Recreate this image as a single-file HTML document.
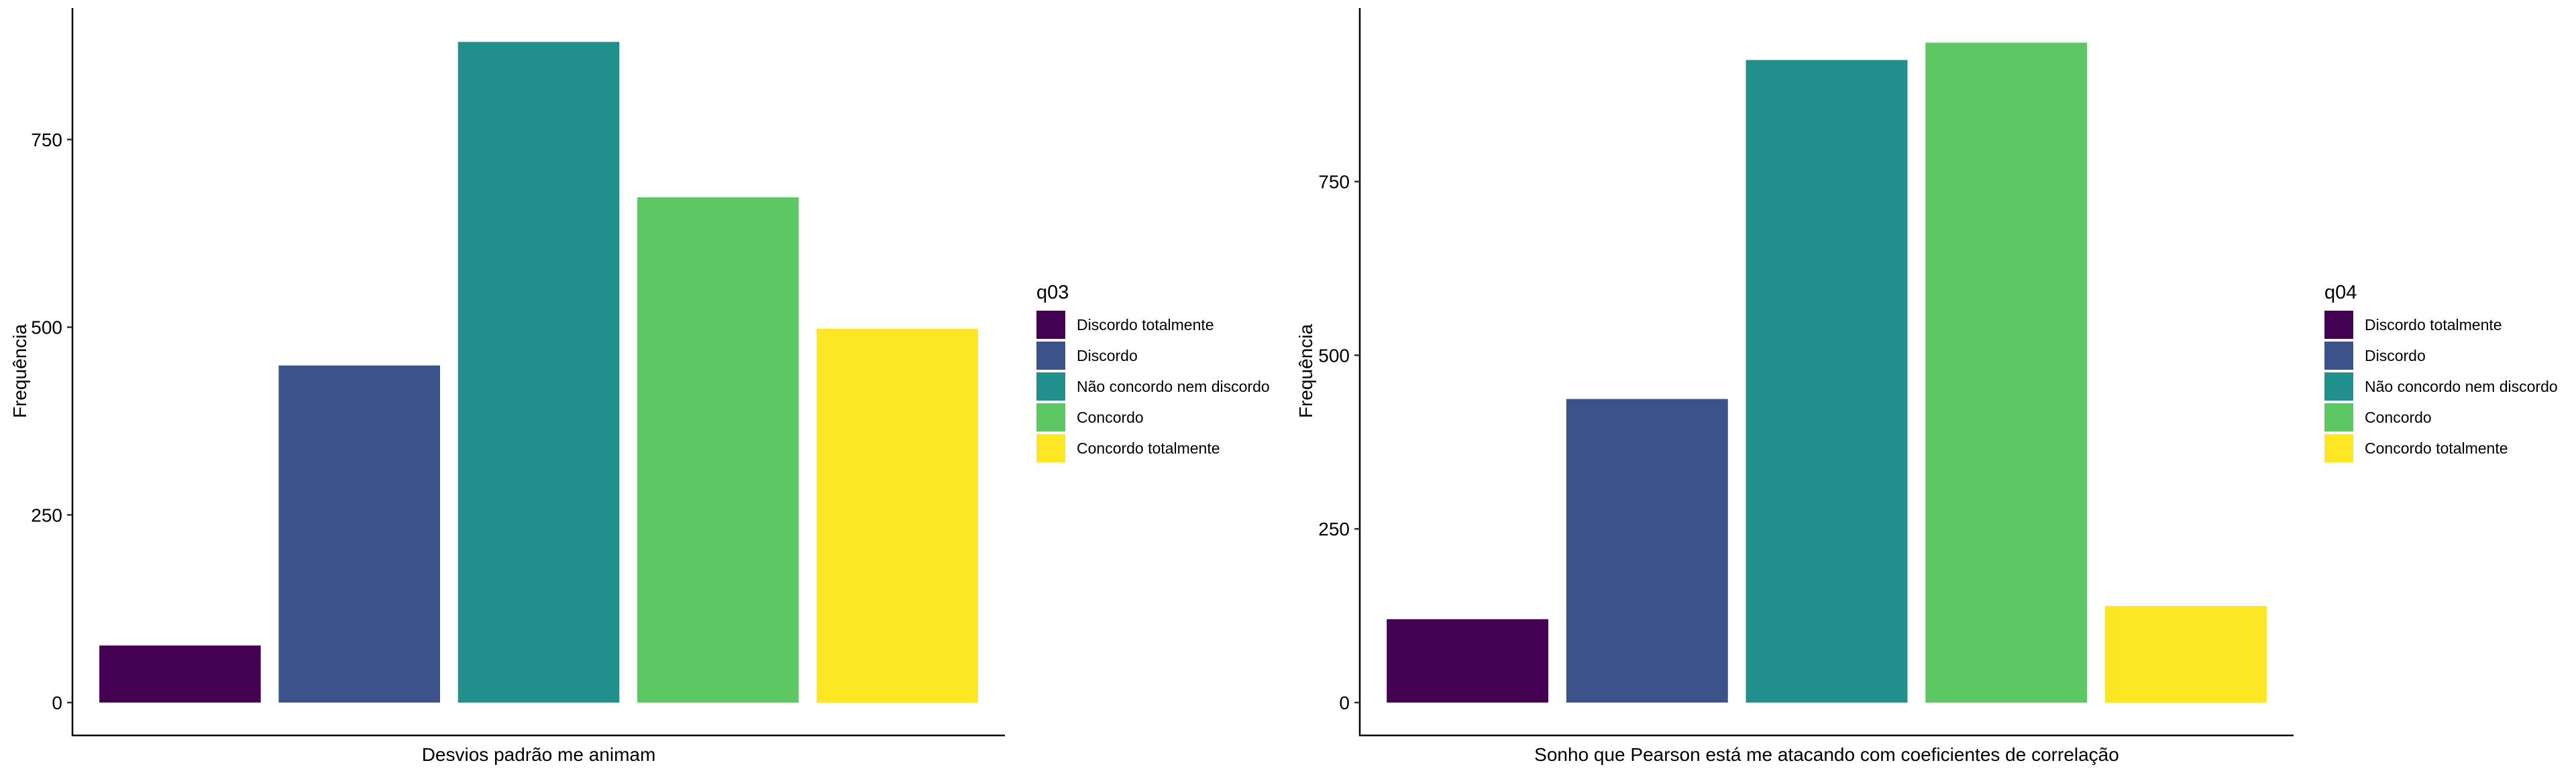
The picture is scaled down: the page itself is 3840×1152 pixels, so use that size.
<!DOCTYPE html>
<html><head><meta charset="utf-8"><style>
html,body{margin:0;padding:0;background:#fff;}
svg{display:block;font-family:"Liberation Sans",Arial,sans-serif;}
</style></head><body>
<svg id="chart" width="3840" height="1152" viewBox="0 0 3840 1152" xmlns="http://www.w3.org/2000/svg"></svg>
<script>
const categories = ["Discordo totalmente","Discordo","Não concordo nem discordo","Concordo","Concordo totalmente"];
const colors = ["#440154","#3B528B","#21908C","#5DC863","#FDE725"];
const q03Values = [76, 449, 880, 673, 498];
const q04Values = [120, 437, 925, 950, 139];
const yTicks = [0, 250, 500, 750];
const panelTitles = ["Desvios padrão me animam","Sonho que Pearson está me atacando com coeficientes de correlação"];
const legendTitles = ["q03","q04"];

const NS = "http://www.w3.org/2000/svg";
const svg = document.getElementById('chart');
function mk(tag, attrs, parent){
  const e = document.createElementNS(NS, tag);
  for (const k in attrs) e.setAttribute(k, attrs[k]);
  (parent||svg).appendChild(e);
  return e;
}
const panels = [
  {values:q03Values, x0:108, x1:1498, y0:1047, pxPer250:279.7, top:12, legX:1545, title:panelTitles[0], leg:legendTitles[0], yTitleX:29},
  {values:q04Values, x0:2027, x1:3419, y0:1047, pxPer250:258.8, top:12, legX:3465, title:panelTitles[1], leg:legendTitles[1], yTitleX:1946}
];
panels.forEach((p, pi) => {
  const g = mk('g', {});
  
  
  const y = v => p.y0 - v / 250 * p.pxPer250;
  const step = (p.x1 - p.x0) / 5.2;
  const xc = i => p.x0 + (i + 1 - 0.4) * step;
  p.values.forEach((v, i) => {
    const r = mk('rect', {x: xc(i) - step*0.45, y: y(v), width: step*0.9, height: p.y0 - y(v), fill: colors[i]}, g);
    
    
  });
  const ya = mk('line', {x1:p.x0, y1:p.top, x2:p.x0, y2:1096, stroke:'#000', 'stroke-width':2.5}, g);
  
  
  const xa = mk('line', {x1:p.x0-1, y1:1096, x2:p.x1, y2:1096, stroke:'#000', 'stroke-width':2.5}, g);
  
  
  yTicks.forEach(t => {
    const tk = mk('line', {x1:p.x0-8, y1:y(t), x2:p.x0, y2:y(t), stroke:'#333', 'stroke-width':2.5}, g);
    
    
    const tl = mk('text', {x:p.x0-15, y:y(t)+10, 'font-size':28, 'text-anchor':'end', fill:'#000'}, g);
    tl.textContent = String(t);
    
    
  });
  const xt = mk('text', {x:(p.x0+p.x1)/2, y:1134, 'font-size':28, 'text-anchor':'middle', fill:'#000'}, g);
  xt.textContent = p.title;
  
  
  const yt = mk('text', {x:0, y:0, 'font-size':28, 'text-anchor':'middle', fill:'#000', transform:'translate(' + (p.yTitleX+10) + ',553) rotate(-90)'}, g);
  yt.textContent = 'Frequência';
  
  
  const lg = mk('g', {}, g);
  
  
  const lt = mk('text', {x:p.legX, y:445, 'font-size':29, fill:'#000'}, lg);
  lt.textContent = p.leg;
  
  
  categories.forEach((c, i) => {
    const ky = 463 + i*46;
    const kr = mk('rect', {x:p.legX, y:ky, width:43, height:42, fill:colors[i]}, lg);
    
    
    const kt = mk('text', {x:p.legX+60, y:ky+29, 'font-size':23, fill:'#000'}, lg);
    kt.textContent = c;
    
    
  });
});
</script>
</body></html>
